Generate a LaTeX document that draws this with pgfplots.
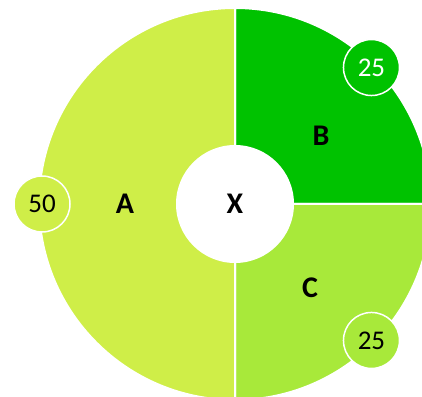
\documentclass[border=0pt]{standalone}
\usepackage{pgfplots}
\pgfplotsset{compat=1.18}
\usepackage{pgfplotstable}
\usepackage{fontspec}
\setmainfont{Carlito}
\definecolor{cA}{RGB}{207,238,72}
\definecolor{cB}{RGB}{0,194,0}
\definecolor{cC}{RGB}{168,233,58}

\pgfplotstableread{
name value lx ly
B 25 321 136
C 25 310 288
A 50 125 204
}\slices

\pgfplotstablegetelem{0}{value}\of\slices \edef\vB{\pgfplotsretval}
\pgfplotstablegetelem{1}{value}\of\slices \edef\vC{\pgfplotsretval}
\pgfplotstablegetelem{2}{value}\of\slices \edef\vA{\pgfplotsretval}
\pgfplotstablegetelem{0}{lx}\of\slices \edef\xB{\pgfplotsretval}
\pgfplotstablegetelem{0}{ly}\of\slices \edef\yB{\pgfplotsretval}
\pgfplotstablegetelem{1}{lx}\of\slices \edef\xC{\pgfplotsretval}
\pgfplotstablegetelem{1}{ly}\of\slices \edef\yC{\pgfplotsretval}
\pgfplotstablegetelem{2}{lx}\of\slices \edef\xA{\pgfplotsretval}
\pgfplotstablegetelem{2}{ly}\of\slices \edef\yA{\pgfplotsretval}

\pgfmathsetmacro\tot{\vA+\vB+\vC}
\pgfmathsetmacro\aBs{90}
\pgfmathsetmacro\aBe{\aBs-360*(\vB/\tot)}
\pgfmathsetmacro\aCs{\aBe}
\pgfmathsetmacro\aCe{\aCs-360*(\vC/\tot)}
\pgfmathsetmacro\aAs{\aCe}
\pgfmathsetmacro\aAe{\aAs-360*(\vA/\tot)}
\pgfmathsetmacro\mB{(\aBs+\aBe)/2}
\pgfmathsetmacro\mC{(\aCs+\aCe)/2}
\pgfmathsetmacro\mA{(\aAs+\aAe)/2}

\def\cx{235}
\def\cy{-204}
\def\Rout{196}
\def\Rin{59}
\def\Rb{193}

\begin{document}
\begin{tikzpicture}
\begin{axis}[name=ax,
  width=422pt, height=396pt, scale only axis,
  xmin=0, xmax=422, ymin=-396, ymax=0,
  hide axis, clip=true]
\addplot[draw=none] coordinates {(0,0) (422,-396)};
% slices
\fill[cB, draw=white, line width=2pt] (axis cs:\cx,\cy) -- ++(\aBs:\Rout pt) arc[start angle=\aBs, end angle=\aBe, radius=\Rout pt] -- cycle;
\fill[cC, draw=white, line width=2pt] (axis cs:\cx,\cy) -- ++(\aCs:\Rout pt) arc[start angle=\aCs, end angle=\aCe, radius=\Rout pt] -- cycle;
\fill[cA, draw=white, line width=2pt] (axis cs:\cx,\cy) -- ++(\aAs:\Rout pt) arc[start angle=\aAs, end angle=\aAe, radius=\Rout pt] -- cycle;
% hole
\fill[white] (axis cs:\cx,\cy) circle[radius=\Rin pt];
\node[font=\fontsize{30}{32}\selectfont\bfseries] at (axis cs:\cx,\cy) {X};
% labels
\node[font=\fontsize{30}{32}\selectfont\bfseries] at (axis cs:\xA,-\yA) {A};
\node[font=\fontsize{30}{32}\selectfont\bfseries] at (axis cs:\xB,-\yB) {B};
\node[font=\fontsize{30}{32}\selectfont\bfseries] at (axis cs:\xC,-\yC) {C};
% bubbles
\path (axis cs:\cx,\cy) ++(\mB:\Rb pt) node[circle, fill=cB, draw=white, line width=1.5pt, minimum size=56pt, inner sep=0pt, text=white, font=\fontsize{27}{29}\selectfont] {\vB};
\path (axis cs:\cx,\cy) ++(\mC:\Rb pt) node[circle, fill=cC, draw=white, line width=1.5pt, minimum size=56pt, inner sep=0pt, text=black, font=\fontsize{27}{29}\selectfont] {\vC};
\path (axis cs:\cx,\cy) ++(\mA:\Rb pt) node[circle, fill=cA, draw=white, line width=1.5pt, minimum size=56pt, inner sep=0pt, text=black, font=\fontsize{27}{29}\selectfont] {\vA};
\end{axis}
\pgfresetboundingbox
\useasboundingbox (ax.south west) rectangle (ax.north east);
\end{tikzpicture}
\end{document}
